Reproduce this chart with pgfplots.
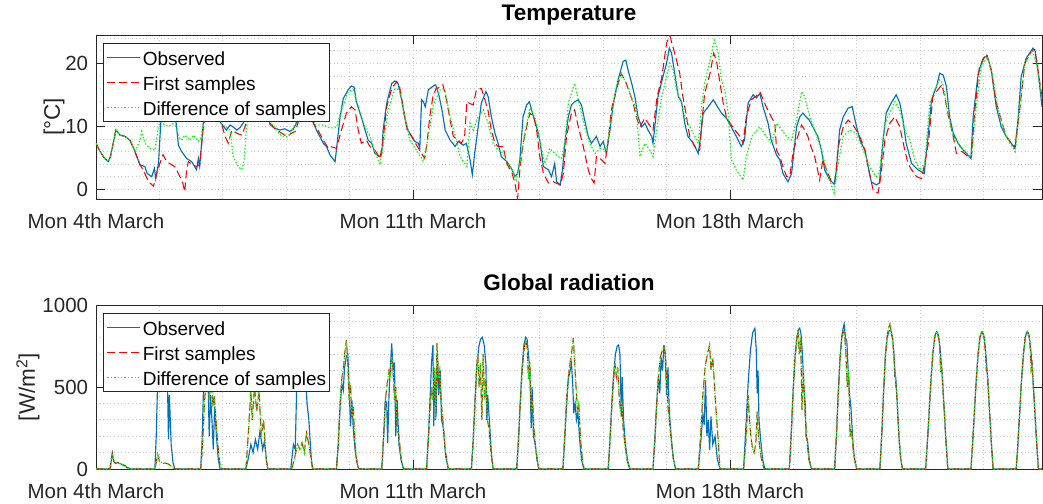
\documentclass[border=0pt]{standalone}
\usepackage{fontspec}
\setmainfont{Liberation Sans}
\usepackage{pgfplots}
\usepackage{pgfplotstable}
\pgfplotsset{compat=1.18}

\definecolor{mblue}{rgb}{0,0.447,0.741}
\definecolor{axgray}{rgb}{0.15,0.15,0.15}
\definecolor{gridgray}{rgb}{0.80,0.80,0.80}
\definecolor{lime}{rgb}{0,1,0}

% Temperature, observed (days since Mon 4th March 00:00, degC)
\pgfplotstableread{
d T
0 7.3
0.09 6.0
0.18 5.0
0.27 4.4
0.32 5.2
0.44 9.4
0.53 8.6
0.64 8.4
0.75 7.8
0.86 6.0
0.97 3.9
1.08 3.6
1.13 2.5
1.23 2.0
1.29 3.3
1.32 1.7
1.38 4.1
1.43 10.5
1.5 13.2
1.58 14.0
1.68 12.5
1.77 10.5
1.82 7.0
1.89 6.0
2.0 4.9
2.11 4.4
2.22 3.1
2.26 4.9
2.29 3.6
2.37 10.5
2.45 13.5
2.55 14.2
2.65 12.5
2.74 10.7
2.88 9.4
2.96 10.2
3.03 9.9
3.11 9.4
3.18 9.8
3.25 10.5
3.33 11.8
3.45 14.0
3.6 14.8
3.72 13.0
3.84 10.5
3.95 9.7
4.06 9.4
4.17 9.6
4.28 9.2
4.35 9.5
4.43 10.5
4.52 13.5
4.64 14.5
4.74 12.5
4.8 10.5
4.87 9.4
4.94 8.4
5.02 7.3
5.09 6.8
5.17 5.4
5.28 4.4
5.39 11.5
5.46 14.4
5.57 15.8
5.64 16.4
5.7 16.2
5.75 13.9
5.83 12.1
5.88 11.0
5.94 9.4
6.01 7.8
6.09 7.3
6.16 5.7
6.27 5.2
6.31 5.7
6.34 9.4
6.42 13.7
6.53 16.8
6.6 17.2
6.67 16.8
6.75 14.2
6.82 11.3
6.89 9.4
6.97 8.4
7.04 7.6
7.12 7.3
7.15 6.5
7.19 14.2
7.23 13.9
7.27 13.1
7.34 15.8
7.45 16.4
7.5 16.6
7.57 15.0
7.64 12.6
7.71 9.4
7.82 7.8
7.93 6.8
8.0 7.6
8.11 7.0
8.18 7.3
8.26 4.7
8.31 2.3
8.37 6.2
8.44 9.9
8.51 13.7
8.61 15.5
8.66 14.7
8.73 11.5
8.81 8.9
8.88 7.3
8.95 5.2
9.07 4.4
9.19 3.1
9.25 2.0
9.31 2.5
9.36 4.7
9.43 11.5
9.51 13.4
9.57 13.9
9.65 11.8
9.73 9.9
9.8 7.8
9.88 3.6
9.99 3.1
10.06 2.0
10.13 4.1
10.17 1.2
10.25 0.7
10.3 3.1
10.36 7.8
10.43 11.5
10.5 13.4
10.57 13.9
10.65 14.2
10.72 13.4
10.79 11.0
10.87 8.4
10.94 7.3
11.05 8.4
11.13 6.8
11.2 7.6
11.27 5.7
11.35 9.4
11.42 13.4
11.53 17.4
11.64 20.3
11.7 20.5
11.75 18.9
11.83 16.8
11.9 14.7
11.97 11.5
12.05 9.9
12.12 10.5
12.19 9.4
12.27 8.4
12.3 7.3
12.34 10.0
12.41 14.7
12.52 17.9
12.6 20.0
12.66 22.4
12.71 21.6
12.79 17.9
12.86 14.7
12.93 13.9
13.0 10.5
13.07 8.4
13.19 7.3
13.3 5.7
13.34 7.8
13.41 12.1
13.52 13.1
13.63 14.2
13.7 13.4
13.81 12.1
13.92 11.3
14.03 9.9
14.14 8.4
14.25 6.8
14.32 7.8
14.4 13.7
14.51 15.0
14.58 14.5
14.66 15.2
14.73 13.1
14.84 10.5
14.91 7.8
15.03 5.4
15.1 4.7
15.17 2.5
15.28 1.2
15.36 2.5
15.47 9.9
15.54 11.5
15.61 12.1
15.68 11.5
15.75 11.0
15.83 9.9
15.94 8.4
16.02 6.2
16.09 3.1
16.2 1.5
16.3 0.8
16.35 3.1
16.42 9.4
16.5 11.5
16.61 12.9
16.7 13.1
16.76 11.0
16.87 7.8
16.98 6.2
17.05 3.6
17.12 1.2
17.23 0.7
17.3 1.0
17.38 7.8
17.45 12.1
17.56 13.7
17.67 15.0
17.75 13.7
17.82 11.0
17.89 7.3
18.01 4.1
18.15 3.1
18.29 2.5
18.38 8.9
18.45 14.2
18.56 16.3
18.63 18.4
18.71 18.1
18.78 16.3
18.85 11.5
18.93 8.9
19.04 7.3
19.15 6.2
19.26 5.4
19.32 4.9
19.37 11.5
19.48 18.4
19.59 20.8
19.68 21.2
19.77 18.9
19.88 13.1
19.99 9.9
20.1 8.4
20.21 7.3
20.29 6.5
20.36 11.0
20.43 17.9
20.54 20.8
20.69 22.4
20.74 21.9
20.8 18.9
20.89 13.1
}\tobs

% Temperature, first samples
\pgfplotstableread{
d T
0 7.3
0.09 6.0
0.18 5.0
0.27 4.4
0.32 5.2
0.44 9.4
0.53 8.6
0.64 8.4
0.75 7.8
0.86 6.0
0.97 3.9
1.04 3.1
1.16 1.2
1.27 0.5
1.34 2.5
1.41 4.1
1.48 5.5
1.56 4.4
1.67 3.9
1.74 3.6
1.82 2.5
1.91 1.2
1.96 -0.4
2.0 3.1
2.04 4.4
2.11 4.0
2.22 3.6
2.29 4.0
2.37 9.9
2.45 13.0
2.55 13.8
2.65 12.2
2.76 10.7
2.85 8.4
2.92 7.3
3.0 9.4
3.11 8.9
3.22 8.6
3.29 9.9
3.36 12.0
3.48 14.5
3.6 15.0
3.72 12.8
3.84 10.3
3.99 9.4
4.1 8.9
4.21 8.4
4.32 8.9
4.4 9.2
4.46 10.5
4.55 13.0
4.65 14.0
4.75 12.0
4.8 10.5
4.9 9.4
5.02 7.8
5.13 6.5
5.17 6.8
5.31 6.5
5.42 9.4
5.53 12.1
5.64 13.1
5.72 12.6
5.79 9.4
5.86 7.3
5.97 7.8
6.05 6.8
6.16 6.2
6.27 4.9
6.33 7.3
6.42 13.1
6.53 16.0
6.64 17.1
6.7 16.5
6.78 13.1
6.87 9.4
6.97 8.4
7.08 7.0
7.19 5.7
7.26 4.9
7.31 7.3
7.37 11.5
7.44 14.7
7.51 16.0
7.6 16.2
7.66 16.6
7.74 14.2
7.82 11.0
7.89 8.4
8.0 7.8
8.07 7.3
8.14 8.4
8.19 13.9
8.26 13.6
8.33 13.4
8.4 15.8
8.51 16.0
8.59 14.2
8.66 12.4
8.73 9.4
8.81 7.3
8.88 6.8
8.99 6.8
9.07 4.1
9.19 2.5
9.25 1.0
9.31 -1.5
9.36 3.1
9.43 7.3
9.51 9.9
9.58 12.1
9.67 11.5
9.73 9.4
9.8 5.2
9.88 2.5
9.99 1.0
10.1 1.2
10.25 0.7
10.32 2.5
10.39 8.4
10.5 12.1
10.57 12.6
10.65 9.9
10.76 6.8
10.87 3.1
10.94 1.7
11.0 1.0
11.05 5.2
11.16 4.7
11.24 4.1
11.31 7.8
11.38 12.6
11.49 15.8
11.6 18.4
11.71 16.8
11.79 15.2
11.86 13.7
11.93 11.5
12.01 9.9
12.12 11.3
12.22 10.2
12.3 9.4
12.39 14.7
12.49 17.6
12.6 23.2
12.67 24.4
12.74 22.6
12.82 20.5
12.89 18.4
12.96 14.7
13.04 11.5
13.11 8.4
13.22 6.8
13.33 6.2
13.39 11.5
13.44 15.2
13.56 18.4
13.64 21.6
13.7 20.5
13.78 16.8
13.85 13.7
13.92 11.5
14.0 10.5
14.11 9.4
14.22 8.4
14.29 7.3
14.36 11.5
14.47 14.2
14.58 14.8
14.66 15.5
14.8 13.1
14.91 11.5
14.99 10.5
15.03 6.2
15.1 5.2
15.17 3.6
15.25 2.0
15.32 2.0
15.4 6.2
15.47 7.8
15.58 10.2
15.65 9.4
15.72 8.4
15.76 7.3
15.87 5.2
15.98 1.5
16.05 4.7
16.13 3.1
16.24 1.2
16.32 1.2
16.39 6.8
16.5 9.9
16.61 11.0
16.72 10.2
16.83 8.9
16.9 7.8
16.98 6.2
17.05 3.6
17.16 -0.1
17.27 -0.6
17.33 2.0
17.42 7.8
17.53 10.5
17.64 11.5
17.75 9.9
17.86 6.2
17.93 4.1
18.01 3.1
18.12 2.0
18.23 1.7
18.3 4.1
18.38 7.3
18.48 14.7
18.59 15.8
18.68 16.6
18.74 14.7
18.81 12.1
18.93 8.4
19.0 5.7
19.12 6.0
19.26 5.2
19.33 4.9
19.4 12.1
19.51 19.5
19.66 21.5
19.77 18.9
19.88 13.7
19.99 11.0
20.1 8.4
20.21 7.3
20.3 6.8
20.39 12.1
20.51 20.0
20.66 22.0
20.73 22.2
20.8 18.9
20.89 14.7
}\tfirst

% Temperature, difference of samples
\pgfplotstableread{
d T
0 7.3
0.09 6.0
0.18 5.0
0.27 4.4
0.32 5.2
0.44 9.4
0.53 8.6
0.64 8.4
0.75 7.8
0.86 6.0
0.97 7.8
1.01 9.2
1.08 7.3
1.19 6.5
1.3 6.2
1.38 9.9
1.43 11.0
1.5 10.3
1.6 10.0
1.7 10.4
1.78 10.0
1.82 8.4
1.89 7.8
1.96 8.6
2.08 7.8
2.15 8.6
2.26 7.6
2.32 8.2
2.37 10.5
2.45 13.2
2.55 14.0
2.65 12.5
2.74 10.5
2.85 10.0
2.96 9.4
3.03 5.2
3.14 3.6
3.22 3.1
3.27 4.5
3.33 10.5
3.42 13.5
3.6 14.5
3.72 13.0
3.84 10.7
3.99 9.4
4.1 8.4
4.25 8.4
4.36 9.9
4.43 10.7
4.55 13.5
4.65 14.0
4.75 12.0
4.85 10.2
5.02 10.2
5.17 9.7
5.31 9.9
5.42 12.6
5.57 15.5
5.68 15.8
5.83 12.1
5.94 9.9
6.05 8.4
6.16 6.0
6.27 3.9
6.34 6.8
6.45 12.6
6.6 16.0
6.7 15.8
6.82 11.5
6.93 7.8
7.08 6.2
7.23 4.4
7.34 8.4
7.45 13.4
7.6 15.8
7.7 15.8
7.82 11.5
7.93 8.4
8.04 5.2
8.19 3.6
8.26 10.5
8.33 9.4
8.44 11.5
8.55 12.6
8.66 10.5
8.77 7.3
8.88 6.2
8.99 5.7
9.1 4.1
9.2 3.1
9.28 1.5
9.36 4.1
9.47 8.9
9.58 12.9
9.69 11.5
9.8 7.8
9.91 4.1
10.02 6.5
10.17 5.4
10.28 4.9
10.36 7.8
10.43 13.7
10.57 16.8
10.65 14.2
10.79 9.9
10.9 7.3
11.02 5.7
11.13 6.5
11.27 6.2
11.38 11.5
11.49 16.3
11.6 18.4
11.71 16.8
11.82 14.7
11.93 12.6
12.01 5.2
12.12 7.3
12.23 6.2
12.3 5.2
12.38 9.4
12.49 14.7
12.6 17.9
12.67 20.0
12.74 19.0
12.82 15.8
12.93 13.7
13.0 11.5
13.07 10.5
13.19 8.9
13.3 7.3
13.37 13.1
13.44 16.8
13.56 20.5
13.65 23.7
13.74 21.6
13.81 17.4
13.88 15.8
13.96 12.1
14.03 4.7
14.14 3.1
14.29 1.5
14.36 5.2
14.48 8.4
14.66 9.9
14.8 8.4
14.92 7.3
15.03 10.5
15.14 9.4
15.25 8.4
15.36 7.8
15.47 11.0
15.58 15.5
15.65 14.7
15.76 11.5
15.87 9.4
16.02 6.2
16.17 2.0
16.3 -0.6
16.39 4.1
16.5 8.4
16.65 9.4
16.79 8.9
16.94 6.2
17.08 3.6
17.23 2.0
17.3 2.8
17.42 10.5
17.53 12.1
17.64 13.9
17.75 12.6
17.86 9.4
17.97 7.8
18.08 4.7
18.19 3.1
18.3 4.1
18.41 13.7
18.52 15.8
18.63 17.4
18.7 16.8
18.81 12.1
18.93 8.4
19.07 6.8
19.2 6.0
19.33 4.9
19.44 13.1
19.55 19.5
19.68 21.1
19.8 18.0
19.92 12.6
20.07 8.9
20.18 7.3
20.3 6.0
20.39 12.6
20.51 20.0
20.68 22.1
20.78 19.5
20.89 14.2
}\tdiff

% Global radiation, observed (W/m^2)
\pgfplotstableread{
d R
0 0
0.31 0
0.33 40
0.36 95
0.39 50
0.43 35
0.47 40
0.51 35
0.56 30
0.60 25
0.64 20
0.68 10
0.72 5
0.76 0
1.30 0
1.33 200
1.36 520
1.40 700
1.45 780
1.50 720
1.55 600
1.58 500
1.60 180
1.62 450
1.66 150
1.70 40
1.74 0
2.31 0
2.34 150
2.37 450
2.40 620
2.44 700
2.47 600
2.50 200
2.53 450
2.56 300
2.59 120
2.62 380
2.66 200
2.70 60
2.74 0
3.31 0
3.36 60
3.42 150
3.47 100
3.52 180
3.57 120
3.62 230
3.68 120
3.72 170
3.77 40
3.80 0
4.30 0
4.36 150
4.40 120
4.44 600
4.50 750
4.56 520
4.60 700
4.66 400
4.70 300
4.75 80
4.78 0
5.31 0
5.35 150
5.39 380
5.43 520
5.46 480
5.49 620
5.53 690
5.56 700
5.59 500
5.62 260
5.65 420
5.68 250
5.72 120
5.76 40
5.80 0
6.31 0
6.35 180
6.39 420
6.42 400
6.44 160
6.47 450
6.50 620
6.53 766
6.56 600
6.59 650
6.62 200
6.65 420
6.69 150
6.74 50
6.79 0
7.30 0
7.34 200
7.38 450
7.41 650
7.44 756
7.46 260
7.48 600
7.51 320
7.54 700
7.57 450
7.60 600
7.63 300
7.67 250
7.72 80
7.78 0
8.29 0
8.33 180
8.37 420
8.41 620
8.45 740
8.49 790
8.53 803
8.57 760
8.61 640
8.63 300
8.65 450
8.69 280
8.73 100
8.77 0
9.29 0
9.33 180
9.37 420
9.41 620
9.45 760
9.49 803
9.52 790
9.55 700
9.58 600
9.61 250
9.63 500
9.66 200
9.70 150
9.74 50
9.78 0
10.31 0
10.35 180
10.39 380
10.43 550
10.47 600
10.50 644
10.53 500
10.55 340
10.58 400
10.61 300
10.64 350
10.68 180
10.72 60
10.77 0
11.31 0
11.35 180
11.39 400
11.43 580
11.47 700
11.51 750
11.54 756
11.57 700
11.60 320
11.62 560
11.65 300
11.69 150
11.74 50
11.79 0
12.30 0
12.34 180
12.38 400
12.42 560
12.45 461
12.48 680
12.51 600
12.54 756
12.57 700
12.60 450
12.63 620
12.66 350
12.70 200
12.75 60
12.80 0
13.30 0
13.35 150
13.40 330
13.43 270
13.46 540
13.49 200
13.52 300
13.55 116
13.58 320
13.62 150
13.67 200
13.72 60
13.78 0
14.30 0
14.35 250
14.40 520
14.45 720
14.50 830
14.55 858
14.58 726
14.60 461
14.62 600
14.64 300
14.67 200
14.72 60
14.77 0
15.31 0
15.35 200
15.39 450
15.43 660
15.47 790
15.51 850
15.54 858
15.57 820
15.60 700
15.63 500
15.66 400
15.68 197
15.71 180
15.75 60
15.80 0
16.31 0
16.35 200
16.39 460
16.43 680
16.47 810
16.50 860
16.52 884
16.55 800
16.58 780
16.61 600
16.64 450
16.67 380
16.71 180
16.75 60
16.80 0
17.31 0
17.35 200
17.39 460
17.43 680
17.47 800
17.51 840
17.55 850
17.59 800
17.62 700
17.64 563
17.66 560
17.69 420
17.73 200
17.77 60
17.81 0
18.32 0
18.36 167
18.40 360
18.44 552
18.48 703
18.52 804
18.545 828
18.565 837
18.585 828
18.61 804
18.65 703
18.69 552
18.73 360
18.77 167
18.81 0
19.32 0
19.36 167
19.40 360
19.44 552
19.48 703
19.52 804
19.545 828
19.565 837
19.585 828
19.61 804
19.65 703
19.69 552
19.73 360
19.77 167
19.81 0
20.32 0
20.36 167
20.40 360
20.44 552
20.48 703
20.52 804
20.545 828
20.565 837
20.585 828
20.61 804
20.65 703
20.69 552
20.73 360
20.77 167
20.81 0
20.89 0
}\robs

% Global radiation, samples
\pgfplotstableread{
d R
0 0
0.31 0
0.33 40
0.36 95
0.39 50
0.43 35
0.47 40
0.51 35
0.56 30
0.60 25
0.64 20
0.68 10
0.72 5
0.76 0
1.30 0
1.33 40
1.36 90
1.40 50
1.45 40
1.50 35
1.55 35
1.60 30
1.65 20
1.70 5
1.74 0
2.31 0
2.35 120
2.39 380
2.43 550
2.47 620
2.50 420
2.54 560
2.58 380
2.61 450
2.65 300
2.69 150
2.73 40
2.77 0
3.31 0
3.36 200
3.42 480
3.45 300
3.50 500
3.55 350
3.60 480
3.65 200
3.70 300
3.75 80
3.79 0
4.32 0
4.38 60
4.45 150
4.50 120
4.55 160
4.60 100
4.65 220
4.70 150
4.76 40
4.79 0
5.31 0
5.35 160
5.39 400
5.43 560
5.46 600
5.49 700
5.53 787
5.56 650
5.59 420
5.62 520
5.65 300
5.68 380
5.72 150
5.76 50
5.80 0
6.31 0
6.35 200
6.39 420
6.43 520
6.47 600
6.50 560
6.53 685
6.56 620
6.59 420
6.62 500
6.65 250
6.69 200
6.74 60
6.79 0
7.30 0
7.34 180
7.38 380
7.41 500
7.44 420
7.47 620
7.50 300
7.53 766
7.56 550
7.59 600
7.62 420
7.66 300
7.71 120
7.78 0
8.29 0
8.33 180
8.37 400
8.40 600
8.43 700
8.46 500
8.49 650
8.52 300
8.55 700
8.58 420
8.61 550
8.64 300
8.68 250
8.72 100
8.77 0
9.29 0
9.33 180
9.37 400
9.41 600
9.45 720
9.49 787
9.52 740
9.55 550
9.58 650
9.61 350
9.64 420
9.67 250
9.71 120
9.78 0
10.31 0
10.35 200
10.39 420
10.43 560
10.47 650
10.50 700
10.54 800
10.57 650
10.60 500
10.63 360
10.66 400
10.70 180
10.74 60
10.78 0
11.31 0
11.35 170
11.39 380
11.43 550
11.46 644
11.49 560
11.52 620
11.55 450
11.58 360
11.61 400
11.64 250
11.68 150
11.73 50
11.79 0
12.30 0
12.34 170
12.38 380
12.42 560
12.46 680
12.50 720
12.54 746
12.57 700
12.60 560
12.63 380
12.66 300
12.70 180
12.75 60
12.80 0
13.30 0
13.35 200
13.40 450
13.45 620
13.50 700
13.55 756
13.58 600
13.62 680
13.67 450
13.72 250
13.78 0
14.30 0
14.36 200
14.40 450
14.43 300
14.46 200
14.50 120
14.53 100
14.57 150
14.60 350
14.63 200
14.68 80
14.75 0
15.31 0
15.35 200
15.39 450
15.43 650
15.47 780
15.50 848
15.53 700
15.56 800
15.59 360
15.62 600
15.65 380
15.69 200
15.74 60
15.80 0
16.31 0
16.35 200
16.39 450
16.43 670
16.47 800
16.50 840
16.53 827
16.56 700
16.59 500
16.62 600
16.65 197
16.68 250
16.72 120
16.76 40
16.80 0
17.31 0
17.35 200
17.39 460
17.43 680
17.47 810
17.50 860
17.53 884
17.56 830
17.59 790
17.62 700
17.65 560
17.69 420
17.73 200
17.77 60
17.81 0
18.32 0
18.36 167
18.40 360
18.44 552
18.48 703
18.52 804
18.545 828
18.565 837
18.585 828
18.61 790
18.63 760
18.65 593
18.67 640
18.69 552
18.73 360
18.77 167
18.81 0
19.32 0
19.36 167
19.40 360
19.44 552
19.48 703
19.52 804
19.545 828
19.565 837
19.585 828
19.61 804
19.64 720
19.66 603
19.68 600
19.73 360
19.77 167
19.81 0
20.32 0
20.36 167
20.40 360
20.44 552
20.48 703
20.52 804
20.545 828
20.565 837
20.585 828
20.61 804
20.63 740
20.65 610
20.67 640
20.73 360
20.77 167
20.81 0
20.89 0
}\rsamp

% Line styles of the three series
\tikzset{
  obs/.style={draw=mblue, line width=1.15pt, solid},
  first/.style={draw=red, line width=1.05pt, dash pattern=on 8pt off 4pt},
  diff/.style={draw=lime, line width=1.2pt, dash pattern=on 1.4pt off 2pt},
}

\pgfplotsset{
  panel/.style={
    scale only axis, width=946pt, height=164pt,
    xmin=0, xmax=20.89,
    xtick={0,7,14},
    xticklabels={Mon 4th March,Mon 11th March,Mon 18th March},
    minor xtick={1.4,2.8,4.2,5.6,8.4,9.8,11.2,12.6,15.4,16.8,18.2,19.6},
    tick align=inside, tick pos=both,
    major tick length=9pt, minor tick length=0pt,
    grid=both,
    grid style={gridgray, line width=0.7pt, dash pattern=on 1pt off 2.6pt},
    axis line style={axgray, line width=0.75pt},
    every tick/.append style={axgray, line width=0.75pt},
    /pgf/number format/assume math mode=true,
    /pgf/number format/1000 sep={},
    scaled ticks=false,
    tick label style={font=\fontsize{20.5}{24}\selectfont, text=axgray},
    xticklabel style={inner sep=0pt, anchor=north, yshift=-14.3pt},
    yticklabel style={inner sep=0pt, anchor=east, xshift=-7.7pt},
    title style={at={(axis description cs:0.5,1)}, anchor=base, yshift=8.3pt,
      font=\bfseries\fontsize{22.5}{27}\selectfont, text=black},
    ylabel style={anchor=base, font=\fontsize{22.5}{27}\selectfont, text=axgray},
    legend style={at={(axis description cs:0.0077,0.949)}, anchor=north west,
      draw=axgray, fill=white,
      inner xsep=3.4pt, inner ysep=3.45pt,
      row sep=4.5pt, column sep=1.7pt,
      nodes={inner sep=0pt, text height=18pt, text depth=2.5pt,
        font=\fontsize{19}{23}\selectfont, text=black}},
    legend cell align=left,
    no markers,
  },
  obs legend/.style={legend image code/.code={\draw[obs] (0pt,0pt) -- (33pt,0pt);}},
  first legend/.style={legend image code/.code={\draw[first] (0pt,0pt) -- (33pt,0pt);}},
  diff legend/.style={legend image code/.code={\draw[diff] (0pt,0pt) -- (33pt,0pt);}},
}

\begin{document}
\begin{tikzpicture}
% Temperature panel
\begin{axis}[panel,
  at={(96pt,-199pt)}, anchor=south west,
  ymin=-1.54, ymax=24.49,
  ytick={0,10,20},
  minor ytick={2,4,6,8,12,14,16,18,22,24},
  title={Temperature},
  ylabel={[°C]},
  ylabel style={at={(axis description cs:-0.0381,0.5)}},
]
\addplot[obs, obs legend] table[x=d, y=T] {\tobs};
\addplot[first, first legend] table[x=d, y=T] {\tfirst};
\addplot[diff, diff legend] table[x=d, y=T] {\tdiff};
\legend{Observed, First samples, Difference of samples}
\end{axis}

% Global radiation panel
\begin{axis}[panel,
  at={(96pt,-469pt)}, anchor=south west,
  ymin=0, ymax=1000,
  ytick={0,500,1000},
  minor ytick={100,200,300,400,600,700,800,900},
  title={Global radiation},
  ylabel={[W/m\textsuperscript{2}]},
  ylabel style={at={(axis description cs:-0.0645,0.5)}},
]
\addplot[obs, obs legend] table[x=d, y=R] {\robs};
\addplot[first, first legend] table[x=d, y=R] {\rsamp};
\addplot[diff, diff legend] table[x=d, y=R] {\rsamp};
\legend{Observed, First samples, Difference of samples}
\end{axis}

\pgfresetboundingbox
\path[use as bounding box] (0pt,0pt) rectangle (1043pt,-503pt);
\end{tikzpicture}
\end{document}
